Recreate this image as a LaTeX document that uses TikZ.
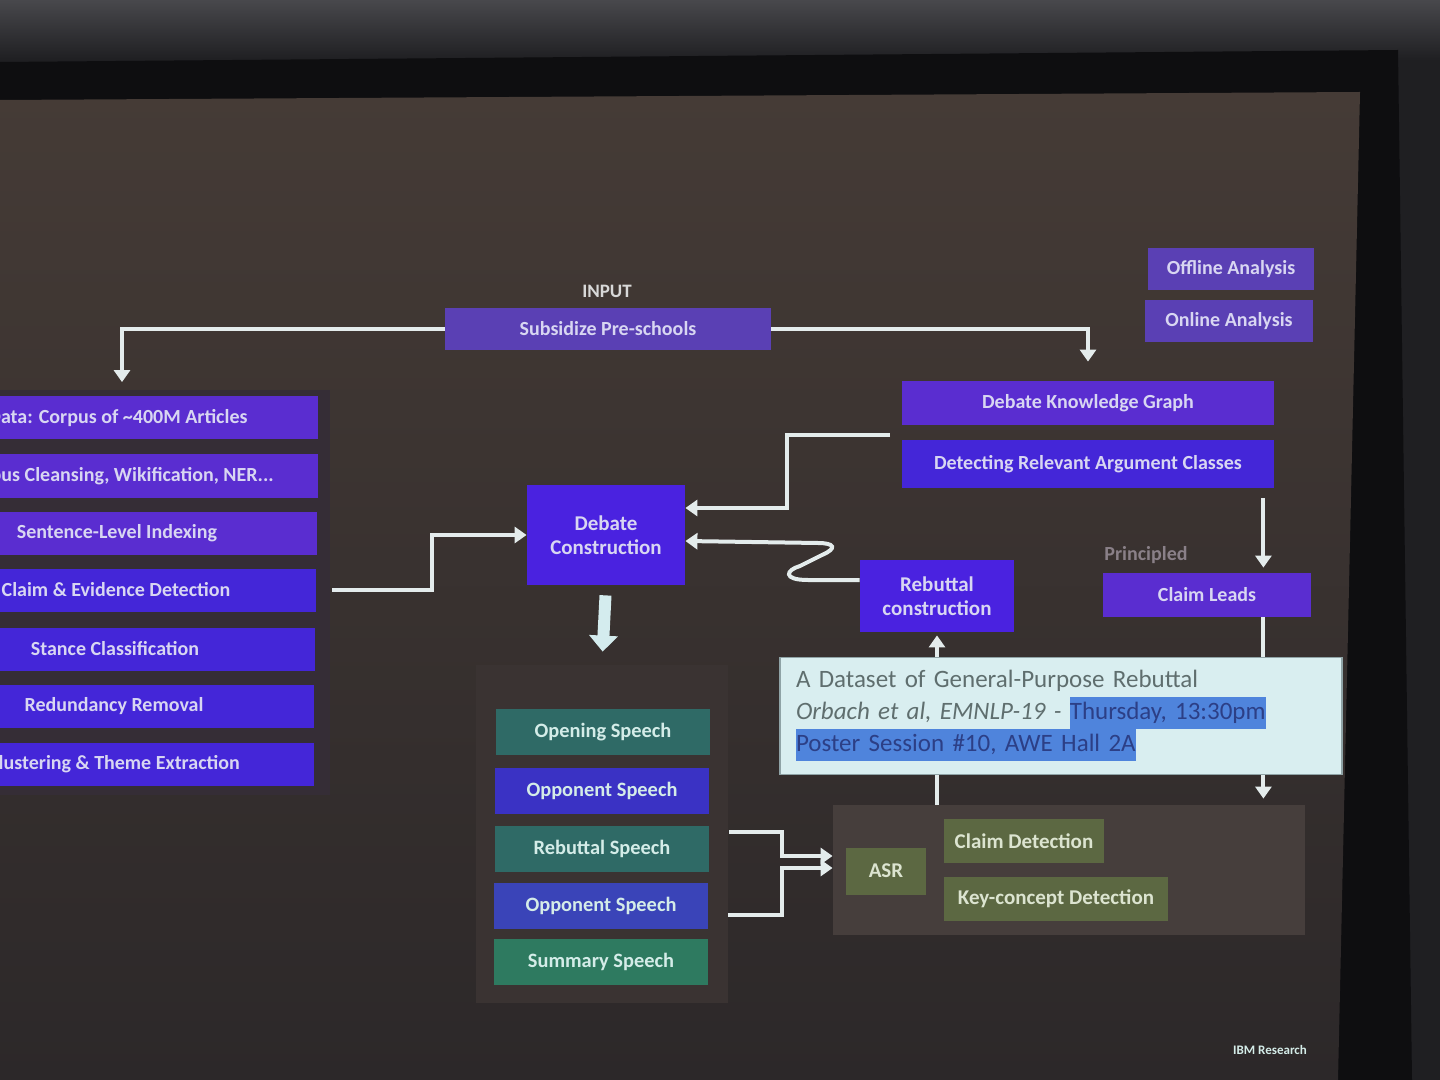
\documentclass[tikz,border=0pt]{standalone}
\usepackage{fontspec}
\setmainfont{Carlito}
\usetikzlibrary{arrows.meta}

\definecolor{roomdark}{HTML}{1F1F22}
\definecolor{roomtop}{HTML}{48484C}
\definecolor{framecol}{HTML}{0E0E10}
\definecolor{screentop}{HTML}{453B36}
\definecolor{screenbot}{HTML}{2C2829}
\definecolor{colpanel}{HTML}{352D36}
\definecolor{inputbox}{HTML}{5A40B4}
\definecolor{purplebox}{HTML}{5A2DD0}
\definecolor{bluebox}{HTML}{4426D8}
\definecolor{debatebox}{HTML}{4A22E0}
\definecolor{boxtext}{HTML}{D8D6F2}
\definecolor{tealbox}{HTML}{2F6A66}
\definecolor{greenbox}{HTML}{2E7A60}
\definecolor{oppbox}{HTML}{3A32C4}
\definecolor{oppbox2}{HTML}{3A44B8}
\definecolor{speechtext}{HTML}{D4ECE8}
\definecolor{olivebox}{HTML}{5C6842}
\definecolor{detecttext}{HTML}{DCE4D0}
\definecolor{speechpanel}{HTML}{3A3332}
\definecolor{asrpanel}{HTML}{463E3C}
\definecolor{arrowcol}{HTML}{E4ECEC}
\definecolor{bigarrowcol}{HTML}{D4ECEE}
\definecolor{calloutbg}{HTML}{D9EEF0}
\definecolor{calloutline}{HTML}{8FA3A6}
\definecolor{callouttext}{HTML}{5F6E6E}
\definecolor{highlight}{HTML}{4F84DC}
\definecolor{hltext}{HTML}{2C3F86}
\definecolor{tagtext}{HTML}{D8D8D8}
\definecolor{softtext}{HTML}{8A8088}

\newcommand{\hlmark}[1]{{\setlength{\fboxsep}{0pt}\colorbox{highlight}{\strut\color{hltext}#1}}}

\begin{document}
\begin{tikzpicture}[x=0.5pt,y=-0.5pt,
  box/.style={fill=purplebox, text=boxtext, font=\bfseries\fontsize{10}{11}\selectfont, inner sep=0pt, align=center},
  colbox/.style={box, minimum width=200pt, minimum height=21.5pt},
  speech/.style={box, fill=tealbox, text=speechtext, font=\bfseries\fontsize{10.2}{11}\selectfont, minimum width=107pt, minimum height=23pt},
  detect/.style={box, fill=olivebox, text=detecttext, font=\bfseries\fontsize{10.5}{11}\selectfont, minimum height=22pt},
  flow/.style={draw=arrowcol, line width=2pt, -{Triangle[width=8pt,length=6pt]}},
  bigflow/.style={draw=bigarrowcol, line width=6pt, -{Triangle[width=14pt,length=8pt]}},
  tag/.style={font=\bfseries\fontsize{9.5}{10}\selectfont, text=tagtext}
]
\useasboundingbox (0,0) rectangle (1440,1080);

% room, frame and screen
\fill[roomdark] (0,0) rectangle (1440,1080);
\shade[top color=roomtop, bottom color=roomdark] (0,0) rectangle (1440,60);
\fill[framecol] (0,62) -- (1398,50) -- (1412,1080) -- (0,1080) -- cycle;
\shade[top color=screentop, bottom color=screenbot] (0,100) -- (1360,92) -- (1338,1080) -- (0,1080) -- cycle;

% panels
\fill[colpanel] (0,390) rectangle (330,795);
\node[fill=speechpanel, minimum width=126pt, minimum height=169pt, inner sep=0pt] (speechpanel) at (602,834) {};
\node[fill=asrpanel, minimum width=236pt, minimum height=65pt, inner sep=0pt] (asrpanel) at (1069,870) {};

% input
\node[tag] (inputtag) at (607,291) {INPUT};
\node[box, fill=inputbox, minimum width=163pt, minimum height=21pt] (input) at (608,329) {Subsidize Pre-schools};

% left column
\node[colbox] (corpus) at (118,418) {Data: Corpus of \textasciitilde 400M Articles};
\node[colbox] (cleansing) at (118,476) {Corpus Cleansing, Wikification, NER...};
\node[colbox] (indexing) at (117,533) {Sentence-Level Indexing};
\node[colbox, fill=bluebox] (claimev) at (116,590) {Claim \& Evidence Detection};
\node[colbox, fill=bluebox] (stance) at (115,649) {Stance Classification};
\node[colbox, fill=bluebox] (redundancy) at (114,706) {Redundancy Removal};
\node[colbox, fill=bluebox] (clustering) at (114,764) {Clustering \& Theme Extraction};

% right top
\node[box, fill=inputbox, minimum width=83pt, minimum height=21pt] (offline) at (1231,269) {Offline Analysis};
\node[box, fill=inputbox, minimum width=84pt, minimum height=21pt] (online) at (1229,321) {Online Analysis};
\node[box, minimum width=186pt, minimum height=22pt] (dkg) at (1088,403) {Debate Knowledge Graph};
\node[box, fill=bluebox, minimum width=186pt, minimum height=24pt] (darg) at (1088,464) {Detecting Relevant Argument Classes};

% middle
\node[box, fill=debatebox, minimum width=79pt, minimum height=50pt, font=\bfseries\fontsize{10.5}{12}\selectfont] (debate) at (606,535) {Debate\\Construction};
\node[box, fill=debatebox, minimum width=77pt, minimum height=36pt, font=\bfseries\fontsize{10.5}{12}\selectfont] (rebuttal) at (937,596) {Rebuttal\\construction};
\node[font=\bfseries\fontsize{10}{11}\selectfont, text=softtext] (principled) at (1146,555) {Principled};
\node[box, minimum width=104pt, minimum height=22pt] (claimleads) at (1207,595) {Claim Leads};

% speeches
\node[speech] (opening) at (603,732) {Opening Speech};
\node[speech, fill=oppbox] (opponent) at (602,791) {Opponent Speech};
\node[speech] (rebspeech) at (602,849) {Rebuttal Speech};
\node[speech, fill=oppbox2] (opponenttwo) at (601,906) {Opponent Speech};
\node[speech, fill=greenbox] (summary) at (601,962) {Summary Speech};

% ASR
\node[detect, minimum width=40pt, minimum height=23.5pt] (asr) at (886,871) {ASR};
\node[detect, minimum width=80pt] (claimdet) at (1024,841) {Claim Detection};
\node[detect, minimum width=112pt] (keyconcept) at (1056,899) {Key-concept Detection};

% connectors
\draw[flow, shorten >=7pt] (input.west) -| ([xshift=2pt]corpus.north);
\draw[flow, shorten >=9.5pt] (input.east) -| (dkg.north);
\coordinate (kgout) at (890,435);
\draw[flow] (kgout) -- ++(-103,0) |- ([yshift=13.5pt]debate.east);
\draw[flow, shorten <=8pt] (claimev.east) -- (432,590) |- (debate.west);
\draw[flow] ([yshift=8pt]rebuttal.west) -- (808,580) .. controls (782,580) and (786,570) .. (800,566)
  -- (822,555) .. controls (838,548) and (834,543) .. (818,543) -- ([yshift=-3pt]debate.east);
\draw[bigflow, shorten <=5pt, shorten >=6.5pt] (debate.south) -- (speechpanel.north);
\draw[flow, shorten >=1.5pt] (rebuttal.south |- asrpanel.north) -- (rebuttal.south);
\draw[flow, shorten <=5pt, shorten >=2.5pt] ([xshift=-5.5pt]darg.south east) -- ([xshift=-24pt]claimleads.north east);
\draw[flow, shorten >=3pt] ([xshift=-24pt]claimleads.south east) -- ([xshift=-24pt]claimleads.south east |- asrpanel.north);
\draw[flow, shorten <=10pt] ([yshift=8.5pt]rebspeech.east) -- (782,832) |- ([yshift=7pt]asrpanel.west);
\draw[flow, shorten <=10pt] ([yshift=-4.5pt]opponenttwo.east) -- (782,915) |- ([yshift=1pt]asrpanel.west);

% paper callout
\node[fill=calloutbg, draw=calloutline, line width=0.8pt, text width=265pt, inner xsep=8pt, inner ysep=6.5pt,
  align=left, text=callouttext, font=\fontsize{12.5}{16}\selectfont] (paper) at (1061,716)
  {A Dataset of General-Purpose Rebuttal\\
   \textit{Orbach et al, EMNLP-19 -} \hlmark{Thursday, 13:30pm}\\
   \hlmark{Poster Session \#10, AWE Hall 2A}};

\node[font=\bfseries\fontsize{6.5}{7}\selectfont, text=speechtext] (ibm) at (1270,1050) {IBM Research};
\end{tikzpicture}
\end{document}
